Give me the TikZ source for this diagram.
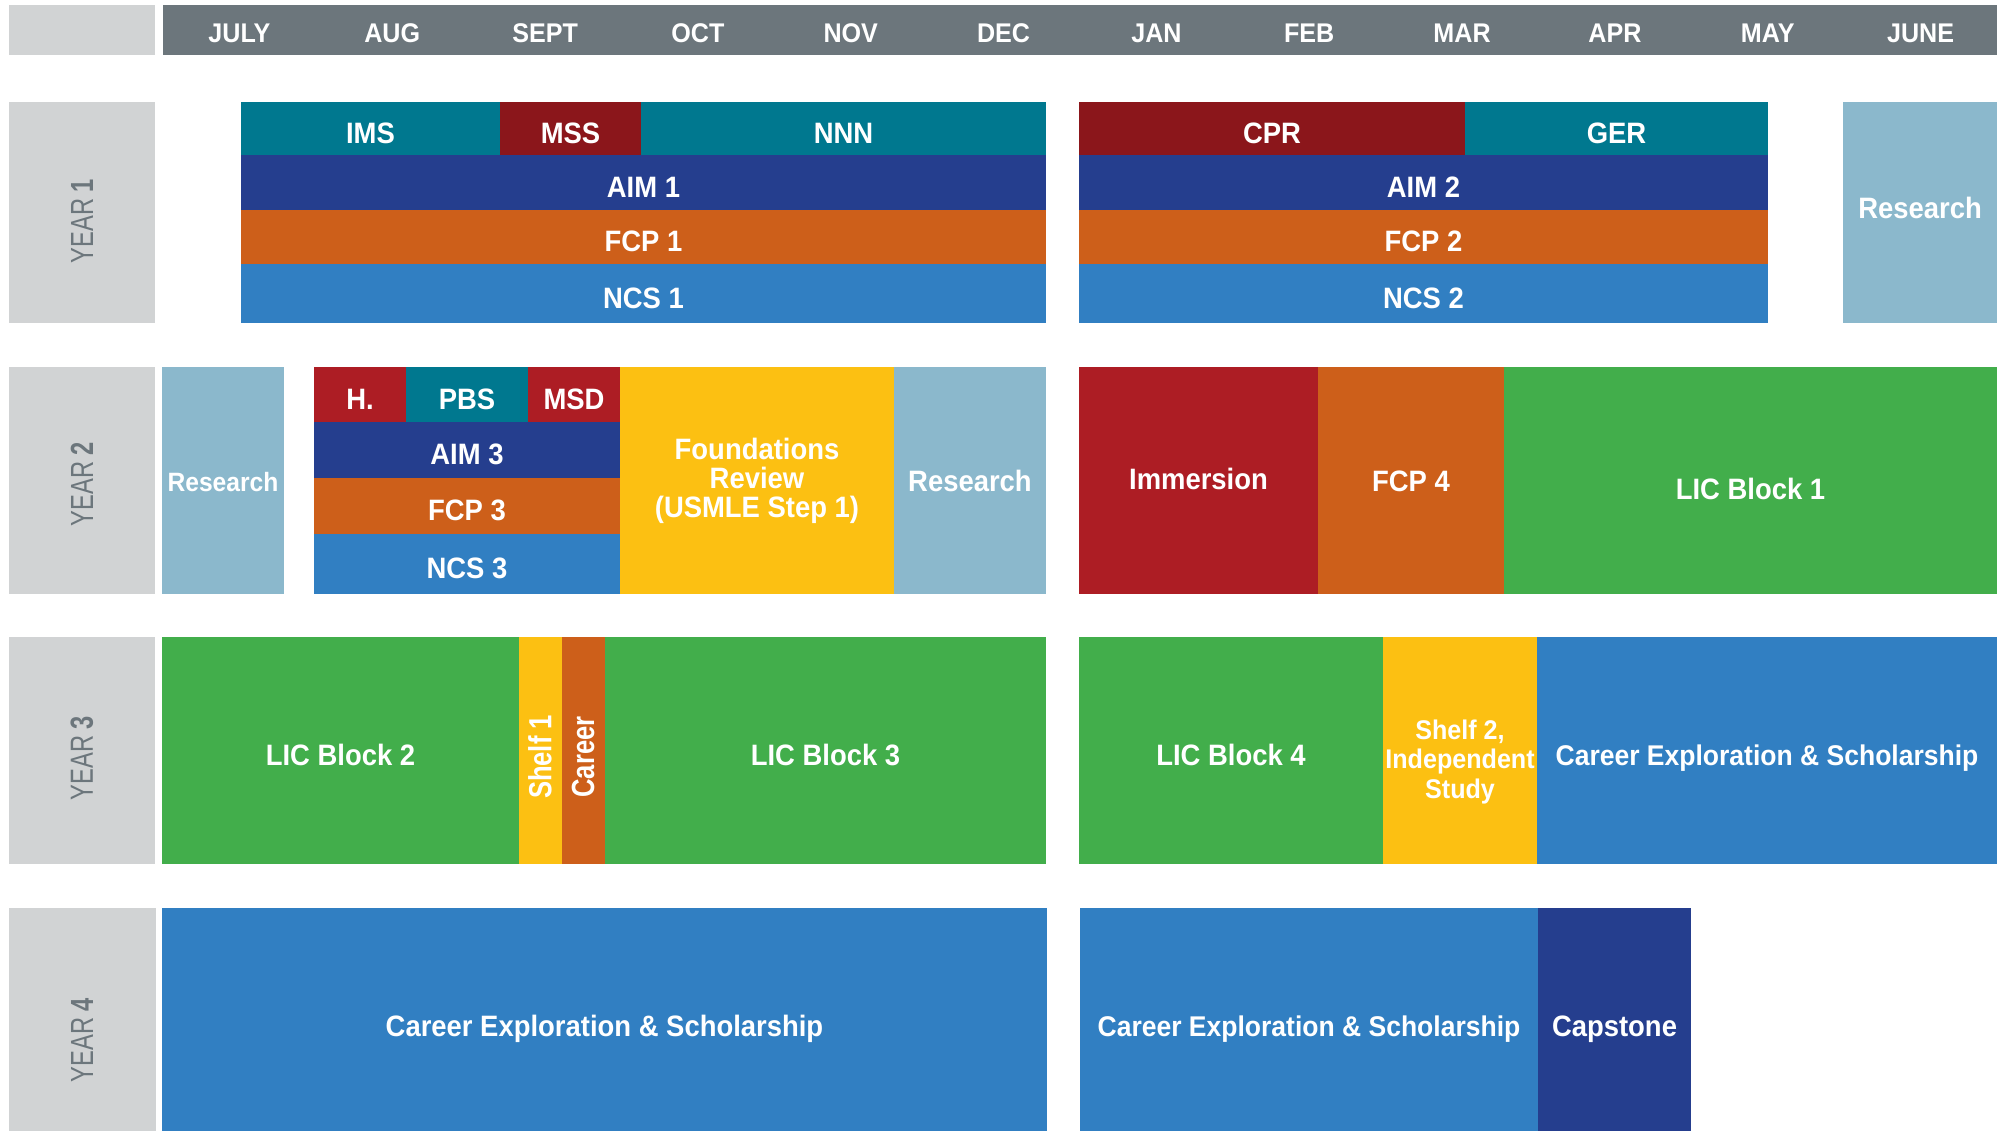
\documentclass[tikz,border=0pt]{standalone}
\usepackage{fontspec}
\setmainfont{Liberation Sans}[FakeStretch=0.93]
\newfontfamily\yearfont{Liberation Sans}[FakeStretch=0.74]
\newfontfamily\sidefont{Liberation Sans}[FakeStretch=0.8]
\usepackage{xcolor}
\usepackage{tikz}

\definecolor{hdrgray}{HTML}{6C767C}
\definecolor{lblgray}{HTML}{D1D3D4}
\definecolor{tealc}{HTML}{00788F}
\definecolor{darkredc}{HTML}{8B161B}
\definecolor{redc}{HTML}{AD1D24}
\definecolor{navyc}{HTML}{253E8E}
\definecolor{orangec}{HTML}{CD5F1A}
\definecolor{bluec}{HTML}{317FC2}
\definecolor{researchc}{HTML}{8BB8CC}
\definecolor{yellowc}{HTML}{FCC012}
\definecolor{greenc}{HTML}{42AE4B}

\begin{document}
\begin{tikzpicture}[x=1pt, y=-1pt,
    base/.style={rectangle, anchor=north west, inner sep=0, outer sep=0, text=white, align=center,
      font=\fontsize{29.5}{29.5}\selectfont\bfseries},
    blk/.style={base, text height=29.5pt, text depth=0pt},
    month/.style={inner sep=0, text=white, font=\fontsize{27}{27}\selectfont\bfseries},
    yr/.style={rotate=90, inner sep=0, text=hdrgray, font=\yearfont\fontsize{32}{32}\selectfont},
    side/.style={rotate=90, inner sep=0, text=white, font=\sidefont\fontsize{32}{32}\selectfont\bfseries}]
  \useasboundingbox (0,0) rectangle (1999,1131);

  \node[blk, fill=lblgray, minimum width=146, minimum height=50] (corner) at (9,5) {};
  \node[blk, fill=hdrgray, minimum width=1834, minimum height=50] (header) at (163,5) {};
  \foreach \m [count=\i] in {JULY,AUG,SEPT,OCT,NOV,DEC,JAN,FEB,MAR,APR,MAY,JUNE}
    \node[month] (m\i) at ({163+152.83*(\i-0.5)},33) {\m};

  \node[blk, fill=lblgray, minimum width=146, minimum height=221] (y1) at (9,102) {};
  \node[yr] (y1txt) at (82,221) {YEAR \textbf{1}};
  \node[blk, fill=tealc, minimum width=259, minimum height=53] (ims) at (241,102) {IMS};
  \node[blk, fill=darkredc, minimum width=141, minimum height=53] (mss) at (500,102) {MSS};
  \node[blk, fill=tealc, minimum width=405, minimum height=53] (nnn) at (641,102) {NNN};
  \node[blk, fill=navyc, minimum width=805, minimum height=55] (aim1) at (241,155) {AIM 1};
  \node[blk, fill=orangec, minimum width=805, minimum height=54] (fcp1) at (241,210) {FCP 1};
  \node[blk, fill=bluec, minimum width=805, minimum height=59] (ncs1) at (241,264) {NCS 1};
  \node[blk, fill=darkredc, minimum width=386, minimum height=53] (cpr) at (1079,102) {CPR};
  \node[blk, fill=tealc, minimum width=303, minimum height=53] (ger) at (1465,102) {GER};
  \node[blk, fill=navyc, minimum width=689, minimum height=55] (aim2) at (1079,155) {AIM 2};
  \node[blk, fill=orangec, minimum width=689, minimum height=54] (fcp2) at (1079,210) {FCP 2};
  \node[blk, fill=bluec, minimum width=689, minimum height=59] (ncs2) at (1079,264) {NCS 2};
  \node[blk, fill=researchc, minimum width=154, minimum height=221, text height=13pt] (res1) at (1843,102) {Research};

  \node[blk, fill=lblgray, minimum width=146, minimum height=227] (y2) at (9,367) {};
  \node[yr] (y2txt) at (82,484) {YEAR \textbf{2}};
  \node[blk, fill=researchc, minimum width=122, minimum height=227, text height=21pt,
    font=\fontsize{26.5}{26.5}\selectfont\bfseries] (res2) at (162,367) {Research};
  \node[blk, fill=redc, minimum width=92, minimum height=55] (hum) at (314,367) {H.};
  \node[blk, fill=tealc, minimum width=122, minimum height=55] (pbs) at (406,367) {PBS};
  \node[blk, fill=redc, minimum width=92, minimum height=55] (msd) at (528,367) {MSD};
  \node[blk, fill=navyc, minimum width=306, minimum height=56] (aim3) at (314,422) {AIM 3};
  \node[blk, fill=orangec, minimum width=306, minimum height=56] (fcp3) at (314,478) {FCP 3};
  \node[blk, fill=bluec, minimum width=306, minimum height=60] (ncs3) at (314,534) {NCS 3};
  \node[base, fill=yellowc, minimum width=274, minimum height=227,
    font=\fontsize{29.5}{29}\selectfont\bfseries] (found) at (620,367) {Foundations\\Review\\(USMLE Step 1)};
  \node[blk, fill=researchc, minimum width=152, minimum height=227, text height=21pt] (res3) at (894,367) {Research};
  \node[blk, fill=redc, minimum width=239, minimum height=227, text height=18pt] (imm) at (1079,367) {Immersion};
  \node[blk, fill=orangec, minimum width=186, minimum height=227, text height=22pt] (fcp4) at (1318,367) {FCP 4};
  \node[blk, fill=greenc, minimum width=493, minimum height=227, text height=37pt] (lic1) at (1504,367) {LIC Block 1};

  \node[blk, fill=lblgray, minimum width=146, minimum height=227] (y3) at (9,637) {};
  \node[yr] (y3txt) at (82,758) {YEAR \textbf{3}};
  \node[blk, fill=greenc, minimum width=357, minimum height=227] (lic2) at (162,637) {LIC Block 2};
  \node[blk, fill=yellowc, minimum width=43, minimum height=227] (shelf1) at (519,637) {};
  \node[side] (shelf1txt) at (540,757) {Shelf 1};
  \node[blk, fill=orangec, minimum width=43, minimum height=227] (career) at (562,637) {};
  \node[side] (careertxt) at (583,757) {Career};
  \node[blk, fill=greenc, minimum width=441, minimum height=227] (lic3) at (605,637) {LIC Block 3};
  \node[blk, fill=greenc, minimum width=304, minimum height=227] (lic4) at (1079,637) {LIC Block 4};
  \node[base, fill=yellowc, minimum width=154, minimum height=227,
    font=\fontsize{27}{29.5}\selectfont\bfseries] (shelf2) at (1383,637) {\rule{0pt}{42pt}Shelf 2,\\Independent\\Study};
  \node[blk, fill=bluec, minimum width=460, minimum height=227,
    font=\fontsize{28.5}{28.5}\selectfont\bfseries] (ces1) at (1537,637) {Career Exploration \& Scholarship};

  \node[blk, fill=lblgray, minimum width=147, minimum height=228] (y4) at (9,908) {};
  \node[yr] (y4txt) at (82,1040) {YEAR \textbf{4}};
  \node[blk, fill=bluec, minimum width=885, minimum height=228] (ces2) at (162,908) {Career Exploration \& Scholarship};
  \node[blk, fill=bluec, minimum width=458, minimum height=228,
    font=\fontsize{28.5}{28.5}\selectfont\bfseries] (ces3) at (1080,908) {Career Exploration \& Scholarship};
  \node[blk, fill=navyc, minimum width=153, minimum height=228] (cap) at (1538,908) {Capstone};
\end{tikzpicture}
\end{document}
